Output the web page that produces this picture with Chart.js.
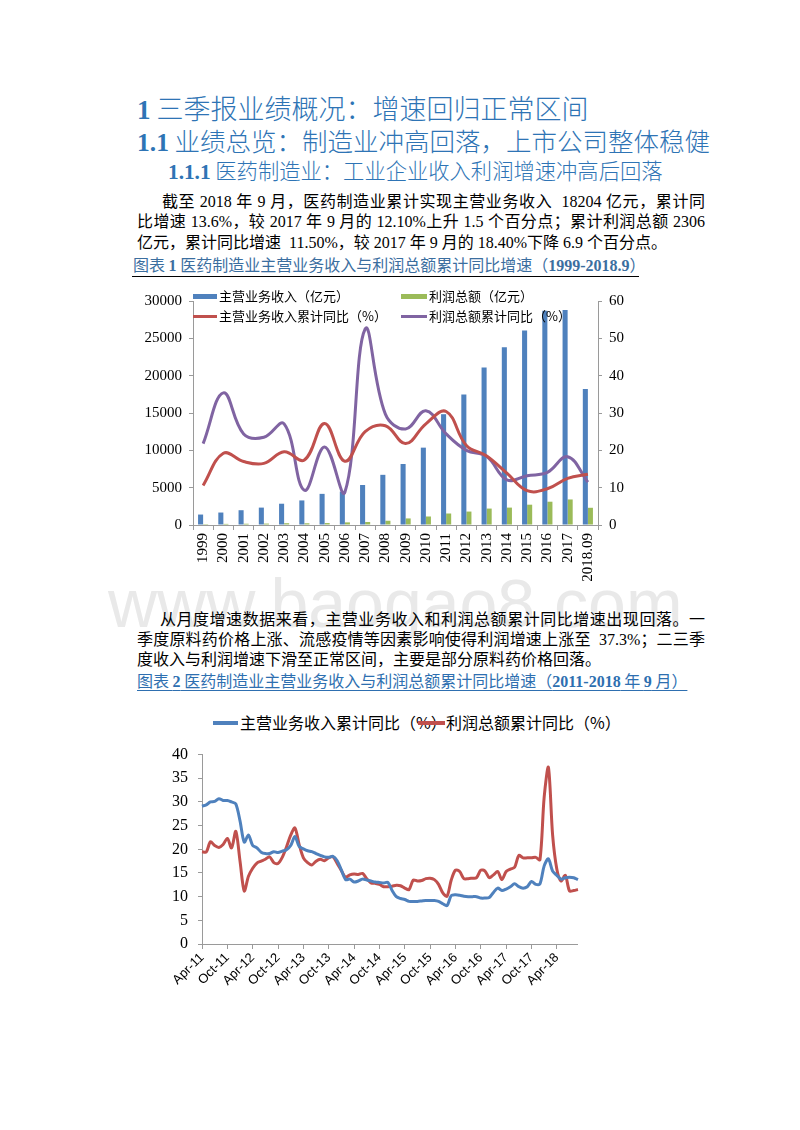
<!DOCTYPE html>
<html>
<head>
<meta charset="utf-8">
<script src="https://cdn.jsdelivr.net/npm/chart.js@4.4.1/dist/chart.umd.min.js"></script>
<style>
  body { margin: 0; width: 800px; height: 1130px; background: #fff; position: relative; overflow: hidden;
         font-family: "Liberation Serif", "Noto Sans CJK SC", serif; color: #000; }
  .a { position: absolute; white-space: nowrap; }
  .h { color: #2e74b5; font-family: "Noto Sans CJK SC", sans-serif; font-weight: 300; }
  .h b { font-family: "Liberation Serif", serif; font-weight: bold; }
  .p { font-size: 16px; line-height: 20px; }
  .j { text-align: justify; text-align-last: justify; }
  .cap { font-size: 16px; line-height: 20px; color: #3b6e9f; font-family: "Noto Sans CJK SC", sans-serif; }
  .cap b { font-family: "Liberation Serif", serif; }
  .u { color: #2e6fb0; text-decoration: underline; text-underline-offset: 3px; }
  .wm { font-family: "Liberation Sans", sans-serif; font-size: 68px; line-height: 68px; color: #e9e9e9; }
  .box { position: absolute; }
  .lg { position: absolute; white-space: nowrap; font-family: "Noto Sans CJK SC", sans-serif; }
  .sw { position: absolute; }
</style>
</head>
<body>

<div class="a h" style="left:137px;top:92px;font-size:27px;line-height:32px;"><b>1</b> 三季报业绩概况：增速回归正常区间</div>
<div class="a h" style="left:137px;top:125px;font-size:25.5px;line-height:30px;"><b>1.1</b> 业绩总览：制造业冲高回落，上市公司整体稳健</div>
<div class="a h" style="left:168px;top:157px;font-size:21.3px;line-height:26px;"><b>1.1.1</b> 医药制造业：工业企业收入利润增速冲高后回落</div>

<div class="a p j" style="left:162px;top:192px;width:543px;">截至 2018 年 9 月，医药制造业累计实现主营业务收入&nbsp; 18204 亿元，累计同</div>
<div class="a p j" style="left:137px;top:212px;width:568px;">比增速 13.6%，较 2017 年 9 月的 12.10%上升 1.5 个百分点；累计利润总额 2306</div>
<div class="a p" style="left:137px;top:233px;">亿元，累计同比增速&nbsp; 11.50%，较 2017 年 9 月的 18.40%下降 6.9 个百分点。</div>
<div class="a cap" style="left:133px;top:254px;">图表 <b>1</b> 医药制造业主营业务收入与利润总额累计同比增速（<b>1999-2018.9</b>）</div>
<div class="sw" style="left:132px;top:276px;width:507px;height:1px;background:#000;"></div>

<div class="a wm" style="left:108px;top:569px;">www.baogao8.com</div>

<div class="box" style="left:130px;top:285px;width:510px;height:310px;"><canvas id="c1"></canvas></div>
<div class="sw" style="left:193px;top:294px;width:24px;height:5px;background:#4f81bd;"></div>
<div class="lg" style="left:219px;top:287px;font-size:13px;line-height:18px;">主营业务收入（亿元）</div>
<div class="sw" style="left:401px;top:294px;width:26px;height:5px;background:#9bbb59;"></div>
<div class="lg" style="left:429px;top:287px;font-size:13px;line-height:18px;">利润总额（亿元）</div>
<div class="sw" style="left:193px;top:315px;width:24px;height:3px;background:#c0504d;"></div>
<div class="lg" style="left:219px;top:307px;font-size:13px;line-height:18px;">主营业务收入累计同比（%）</div>
<div class="sw" style="left:401px;top:315px;width:26px;height:3px;background:#8064a2;"></div>
<div class="lg" style="left:429px;top:307px;font-size:13px;line-height:18px;">利润总额累计同比（%）</div>

<div class="a p j" style="left:160px;top:610px;width:545px;">从月度增速数据来看，主营业务收入和利润总额累计同比增速出现回落。一</div>
<div class="a p j" style="left:137px;top:630px;width:568px;">季度原料药价格上涨、流感疫情等因素影响使得利润增速上涨至&nbsp; 37.3%；二三季</div>
<div class="a p" style="left:137px;top:650px;">度收入与利润增速下滑至正常区间，主要是部分原料药价格回落。</div>
<div class="a cap u" style="left:137px;top:670px;">图表 <b>2</b> 医药制造业主营业务收入与利润总额累计同比增速（<b>2011-2018</b> 年 <b>9</b> 月）</div>

<div class="box" style="left:150px;top:735px;width:440px;height:265px;"><canvas id="c2"></canvas></div>
<div class="sw" style="left:213px;top:721px;width:25px;height:4px;background:#4f81bd;"></div>
<div class="lg" style="left:240px;top:711px;font-size:16px;line-height:22px;">主营业务收入累计同比（%）</div>
<div class="sw" style="left:418px;top:721px;width:27px;height:4px;background:#c0504d;"></div>
<div class="lg" style="left:446px;top:711px;font-size:16px;line-height:22px;">利润总额累计同比（%）</div>

<script>
// chart 1: yearly totals (亿元) and cumulative yoy (%)
const years = ["1999", "2000", "2001", "2002", "2003", "2004", "2005", "2006", "2007", "2008",
  "2009", "2010", "2011", "2012", "2013", "2014", "2015", "2016", "2017", "2018.09"];
const revenue = [1400, 1670, 1980, 2330, 2850, 3290, 4170, 4480, 5360, 6720,
  8170, 10360, 14840, 17480, 21080, 23800, 26040, 28680, 28810, 18204];
const profit = [120, 150, 170, 190, 240, 230, 260, 350, 400, 570,
  880, 1140, 1540, 1800, 2200, 2330, 2720, 3120, 3420, 2306];
const revenueYoY = [10.6, 19.2, 17.0, 16.5, 19.6, 17.4, 27.2, 17.1, 25.0, 26.6,
  21.8, 27.1, 30.4, 21.3, 18.5, 13.9, 9.2, 9.7, 12.5, 13.6];
const profitYoY = [21.8, 35.4, 24.4, 23.5, 27.1, 9.3, 20.9, 8.8, 52.5, 29.7,
  25.7, 30.6, 24.4, 20.0, 18.4, 12.1, 13.2, 14.1, 18.3, 11.5];

// chart 2: monthly cumulative yoy (%), Apr-11 .. Sep-18
const monthNames = ["Jan", "Feb", "Mar", "Apr", "May", "Jun", "Jul", "Aug", "Sep", "Oct", "Nov", "Dec"];
const months = [];
for (let k = 0; k < 90; k++) { const m = (3 + k) % 12, y = 11 + Math.floor((3 + k) / 12); months.push(monthNames[m] + "-" + y); }
const revYoYMonthly = [29.1, 29.4, 30.0, 30.1, 30.7, 30.3, 30.3, 30.0, 29.6, 26.0,
  21.5, 23.0, 20.8, 20.3, 19.4, 19.1, 19.1, 19.5, 19.3, 19.6,
  19.9, 20.8, 22.7, 20.6, 20.1, 19.7, 19.5, 19.1, 18.7, 18.4,
  18.3, 18.5, 17.6, 15.6, 13.6, 13.7, 13.1, 13.3, 13.7, 13.5,
  13.3, 13.1, 13.0, 12.9, 13.0, 11.3, 10.0, 9.6, 9.4, 9.0,
  9.0, 9.0, 9.1, 9.2, 9.2, 9.2, 9.0, 8.5, 8.1, 10.2,
  10.4, 10.3, 10.1, 10.0, 10.0, 10.0, 9.7, 9.7, 9.8, 10.9,
  11.8, 11.3, 11.6, 12.1, 12.7, 12.1, 11.8, 12.1, 13.2, 12.6,
  12.7, 16.5, 18.0, 15.4, 14.5, 13.7, 14.0, 14.1, 14.0, 13.6];
const profitYoYMonthly = [19.5, 19.4, 21.6, 20.8, 20.4, 21.0, 22.3, 20.3, 23.8, 17.5,
  11.2, 14.3, 16.0, 17.1, 17.5, 17.9, 18.4, 17.2, 17.0, 18.3,
  20.5, 23.0, 24.5, 21.0, 18.2, 17.2, 16.7, 17.5, 17.9, 17.6,
  18.2, 18.4, 17.0, 15.5, 14.1, 14.6, 14.8, 14.7, 14.9, 13.8,
  12.9, 12.8, 12.6, 12.1, 12.1, 12.2, 12.4, 12.3, 11.8, 11.5,
  13.5, 13.3, 13.4, 13.8, 13.9, 13.6, 12.6, 10.8, 10.1, 13.5,
  15.6, 15.3, 13.8, 13.8, 13.9, 14.0, 15.6, 15.4, 14.0, 14.6,
  15.3, 13.6, 15.3, 15.8, 16.2, 18.7, 18.2, 18.2, 18.2, 18.3,
  17.8, 31.0, 37.3, 23.0, 15.8, 13.3, 14.5, 11.2, 11.3, 11.5];

const AX = "#9a9a9a";
const serif = (size) => ({ family: "Liberation Serif", size: size });

new Chart(document.getElementById("c1"), {
  data: {
    labels: years,
    datasets: [
      { type: "line", label: "主营业务收入累计同比（%）", data: revenueYoY, yAxisID: "y1", borderColor: "#c0504d", borderWidth: 3, pointRadius: 0, tension: 0.4, order: 0 },
      { type: "line", label: "利润总额累计同比（%）", data: profitYoY, yAxisID: "y1", borderColor: "#8064a2", borderWidth: 3, pointRadius: 0, tension: 0.4, order: 0 },
      { type: "bar", label: "主营业务收入（亿元）", data: revenue, yAxisID: "y", backgroundColor: "#4f81bd", barPercentage: 1, categoryPercentage: 0.5, order: 1 },
      { type: "bar", label: "利润总额（亿元）", data: profit, yAxisID: "y", backgroundColor: "#9bbb59", barPercentage: 1, categoryPercentage: 0.5, order: 1 }
    ]
  },
  options: {
    responsive: true, maintainAspectRatio: false, animation: false,
    layout: { padding: { top: 13, left: 0, right: 0, bottom: 0 } },
    plugins: { legend: { display: false }, tooltip: { enabled: false } },
    scales: {
      x: { offset: true, border: { color: AX },
        grid: { drawOnChartArea: false, offset: true, tickLength: 5, color: AX },
        ticks: { autoSkip: false, minRotation: 90, maxRotation: 90, padding: 3, color: "#000", font: serif(15) },
        afterFit: (s) => { s.height = 70; } },
      y: { position: "left", min: 0, max: 30000, border: { color: AX },
        grid: { drawOnChartArea: false, tickLength: 4, color: AX },
        ticks: { stepSize: 5000, padding: 7, color: "#000", font: serif(15), callback: (v) => String(v) },
        afterFit: (s) => { s.width = 63; } },
      y1: { position: "right", min: 0, max: 60, border: { color: AX },
        grid: { drawOnChartArea: false, tickLength: 4, color: AX },
        ticks: { stepSize: 10, padding: 7, color: "#000", font: serif(15) },
        afterFit: (s) => { s.width = 42; } }
    }
  }
});

new Chart(document.getElementById("c2"), {
  type: "line",
  data: {
    labels: months,
    datasets: [
      { label: "主营业务收入累计同比（%）", data: revYoYMonthly, borderColor: "#4f81bd", borderWidth: 3, pointRadius: 0, tension: 0.3 },
      { label: "利润总额累计同比（%）", data: profitYoYMonthly, borderColor: "#c0504d", borderWidth: 3, pointRadius: 0, tension: 0.3 }
    ]
  },
  options: {
    responsive: true, maintainAspectRatio: false, animation: false,
    layout: { padding: { top: 11, left: 0, right: 10, bottom: 0 } },
    plugins: { legend: { display: false }, tooltip: { enabled: false } },
    scales: {
      x: { border: { color: AX },
        grid: { drawOnChartArea: false, tickLength: 5, color: AX,
          tickColor: (c) => (c.index % 6 === 0 ? AX : "rgba(0,0,0,0)") },
        ticks: { autoSkip: false, minRotation: 45, maxRotation: 45, padding: 1, color: "#000",
          font: { family: "Liberation Sans", size: 13 },
          callback: (v, i) => (i % 6 === 0 ? months[i] : "") },
        afterFit: (s) => { s.height = 56; } },
      y: { min: 0, max: 40, border: { color: AX },
        grid: { drawOnChartArea: false, tickLength: 4, color: AX },
        ticks: { stepSize: 5, padding: 10, color: "#000", font: serif(16) },
        afterFit: (s) => { s.width = 52; } }
    }
  }
});
</script>
</body>
</html>
